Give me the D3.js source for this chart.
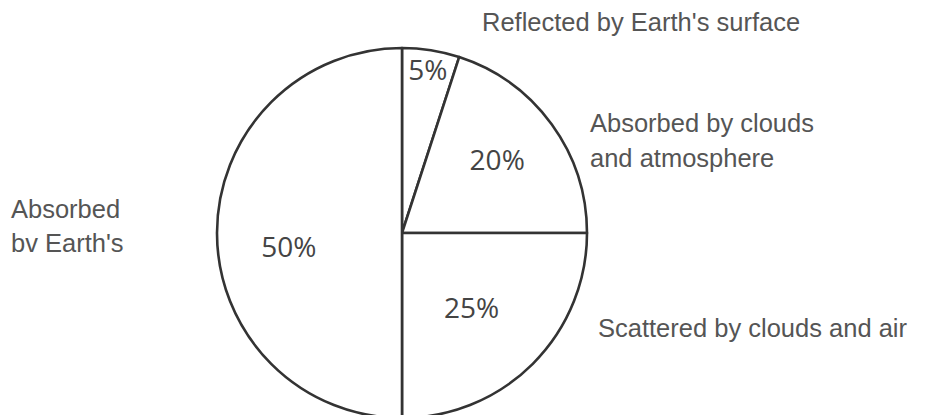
<!DOCTYPE html>
<html>
<head>
<meta charset="utf-8">
<script src="https://cdn.jsdelivr.net/npm/d3@7"></script>
<style>
  body { margin: 0; background: #fff; }
  .pct { font-family: "Open Sans", sans-serif; font-size: 28px; fill: #444; }
  .lbl { font-family: "Liberation Sans", Arial, sans-serif; font-size: 25.5px; fill: #555; }
</style>
</head>
<body>
<div id="chart"></div>
<script>
// slices, clockwise from 12 o'clock
var categories = ["Reflected by Earth's surface", "Absorbed by clouds and atmosphere", "Scattered by clouds and air", "Absorbed by Earth's surface"];
var values = [5, 20, 25, 50];
var pctLabels = ["5%", "20%", "25%", "50%"];

// outer caption lines as they appear in the picture
var captionLines = [
  ["Reflected by Earth's surface"],
  ["Absorbed by clouds", "and atmosphere"],
  ["Scattered by clouds and air"],
  ["Absorbed", "bv Earth's"]
];

var svgWidth = 927;
var svgHeight = 415;
var cx = 402, cy = 233, radius = 185;

// where each % label sits (radius from centre, angle nudge in degrees)
var pctPlace = [
  {r: 165, nudge: 0},
  {r: 120, nudge: -1.5},
  {r: 102, nudge: 2},
  {r: 114, nudge: -7}
];
// caption anchors (x, first baseline, line step)
var capPlace = [
  {x: 482, y: 31, step: 35},
  {x: 590, y: 132, step: 35},
  {x: 598, y: 337, step: 35},
  {x: 11, y: 218, step: 34}
];

var svg = d3.select("#chart")
    .append("svg")
    .attr("width", svgWidth)
    .attr("height", svgHeight);

var pieGroup = svg.append("g")
    .attr("transform", `translate(${cx}, ${cy})`);

var pie = d3.pie().sort(null).value(d => d);
var arcs = pie(values);

var arc = d3.arc().innerRadius(0).outerRadius(radius);

pieGroup.selectAll("path")
    .data(arcs)
    .enter()
    .append("path")
    .attr("d", arc)
    .attr("fill", "#fff")
    .attr("stroke", "#333")
    .attr("stroke-width", 2.6)
    .attr("stroke-linejoin", "round");

// percent labels inside slices
pieGroup.selectAll("text.pct")
    .data(arcs)
    .enter()
    .append("text")
    .attr("class", "pct")
    .attr("text-anchor", "middle")
    .attr("dy", "0.36em")
    .attr("x", (d, i) => {
        var a = (d.startAngle + d.endAngle) / 2 + pctPlace[i].nudge * Math.PI / 180;
        return pctPlace[i].r * Math.sin(a);
    })
    .attr("y", (d, i) => {
        var a = (d.startAngle + d.endAngle) / 2 + pctPlace[i].nudge * Math.PI / 180;
        return -pctPlace[i].r * Math.cos(a);
    })
    .text((d, i) => pctLabels[i]);

// outer captions
captionLines.forEach(function(lines, i) {
    var t = svg.append("text")
        .attr("class", "lbl")
        .attr("x", capPlace[i].x)
        .attr("y", capPlace[i].y);
    lines.forEach(function(line, j) {
        t.append("tspan")
            .attr("x", capPlace[i].x)
            .attr("y", capPlace[i].y + j * capPlace[i].step)
            .text(line);
    });
});
</script>
</body>
</html>
